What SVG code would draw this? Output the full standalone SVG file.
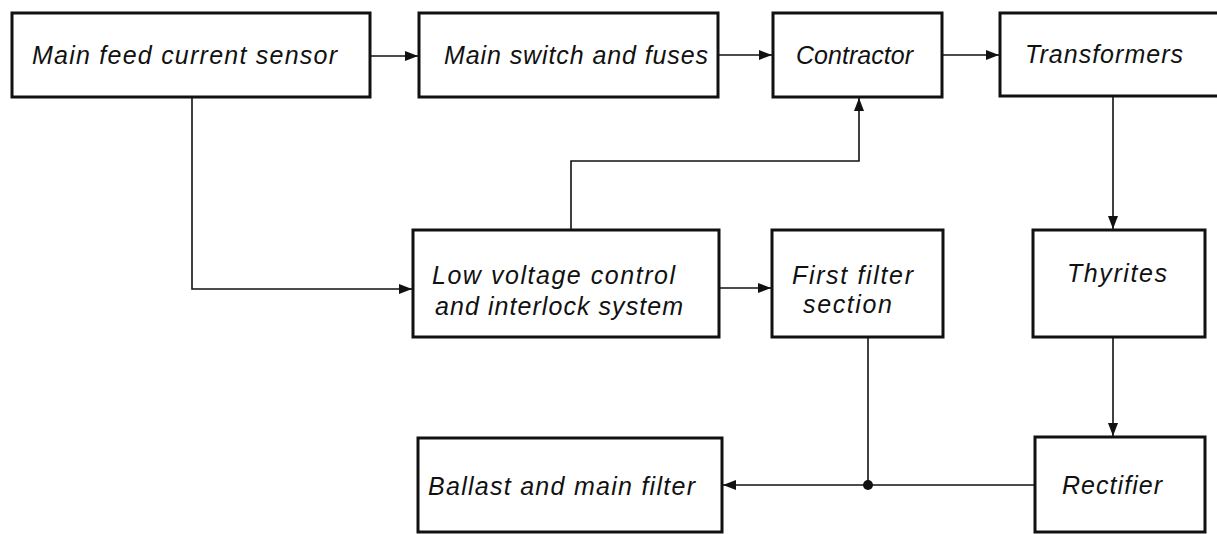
<svg xmlns="http://www.w3.org/2000/svg" width="1217" height="534" viewBox="0 0 1217 534">
<style>
.box{fill:#fff;stroke:#111;stroke-width:3}
.lbl{font-family:"Liberation Sans","DejaVu Sans",sans-serif;font-style:italic;font-size:25px;fill:#111}
.con{fill:none;stroke:#111;stroke-width:1.6}
</style>
<defs>
<marker id="arr" markerUnits="userSpaceOnUse" markerWidth="13" markerHeight="10" refX="13" refY="5" orient="auto">
<path d="M0,0 L13,5 L0,10 z" fill="#111"/>
</marker>
</defs>
<rect width="1217" height="534" fill="#fff"/>
<g id="connectors">
<path class="con" d="M370,56 H418" marker-end="url(#arr)"/>
<path class="con" d="M718,55 H772" marker-end="url(#arr)"/>
<path class="con" d="M942,55 H999" marker-end="url(#arr)"/>
<path class="con" d="M192,97 V289 H412" marker-end="url(#arr)"/>
<path class="con" d="M571,230 V161 H859 V98" marker-end="url(#arr)"/>
<path class="con" d="M719,288 H771" marker-end="url(#arr)"/>
<path class="con" d="M1113,96 V229" marker-end="url(#arr)"/>
<path class="con" d="M1113,337 V436" marker-end="url(#arr)"/>
<path class="con" d="M868,337 V485"/>
<path class="con" d="M1035,485 H723" marker-end="url(#arr)"/>
<circle cx="868" cy="485" r="5" fill="#111"/>
</g>
<g id="n1"><rect class="box" x="12" y="13" width="358" height="84"/><text class="lbl" x="32" y="64" textLength="305" lengthAdjust="spacing">Main feed current sensor</text></g>
<g id="n2"><rect class="box" x="419" y="13" width="299" height="84"/><text class="lbl" x="444" y="64" textLength="264" lengthAdjust="spacing">Main switch and fuses</text></g>
<g id="n3"><rect class="box" x="773" y="13" width="169" height="84"/><text class="lbl" x="796" y="64" textLength="117" lengthAdjust="spacing">Contractor</text></g>
<g id="n4"><rect class="box" x="1000" y="13" width="240" height="83"/><text class="lbl" x="1025" y="63" textLength="158" lengthAdjust="spacing">Transformers</text></g>
<g id="n5"><rect class="box" x="413" y="230" width="306" height="107"/><text class="lbl" x="432" y="284" textLength="243" lengthAdjust="spacing">Low voltage control</text><text class="lbl" x="435" y="315" textLength="248" lengthAdjust="spacing">and interlock system</text></g>
<g id="n6"><rect class="box" x="772" y="230" width="171" height="107"/><text class="lbl" x="792" y="284" textLength="121" lengthAdjust="spacing">First filter</text><text class="lbl" x="803" y="313" textLength="89" lengthAdjust="spacing">section</text></g>
<g id="n7"><rect class="box" x="1033" y="230" width="172" height="107"/><text class="lbl" x="1067" y="282" textLength="100" lengthAdjust="spacing">Thyrites</text></g>
<g id="n8"><rect class="box" x="1035" y="437" width="170" height="95"/><text class="lbl" x="1062" y="494" textLength="100" lengthAdjust="spacing">Rectifier</text></g>
<g id="n9"><rect class="box" x="418" y="438" width="304" height="94"/><text class="lbl" x="428" y="495" textLength="267" lengthAdjust="spacing">Ballast and main filter</text></g>
</svg>
